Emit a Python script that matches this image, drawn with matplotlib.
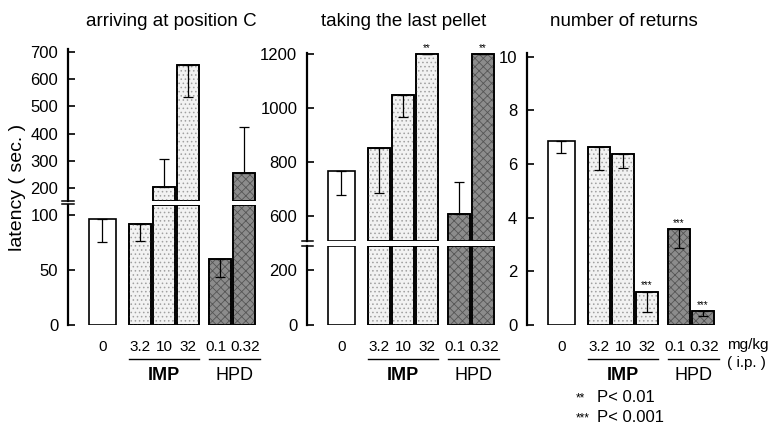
import numpy as np
import matplotlib
matplotlib.use('Agg')
import matplotlib.pyplot as plt
from matplotlib.transforms import blended_transform_factory as btf, ScaledTranslation
from matplotlib.lines import Line2D

plt.rcParams['font.family'] = ['Liberation Sans', 'DejaVu Sans']
plt.rcParams['hatch.linewidth'] = 0.6

# ---------------- data ----------------
doses = ['0', '3.2', '10', '32', '0.1', '0.32']
drug = ['ctrl', 'IMP', 'IMP', 'IMP', 'HPD', 'HPD']

arrive = [96, 92, 205, 653, 60, 256]
arrive_lo = [21, 16, 0, 120, 16, 0]
arrive_hi = [0, 0, 101, 0, 0, 168]

pellet = [767, 852, 1048, 1200, 606, 1200]
pellet_lo = [92, 169, 81, 0, 0, 0]
pellet_hi = [0, 0, 0, 0, 120, 0]
pellet_sig = ['', '', '', '**', '', '**']

returns = [6.87, 6.62, 6.37, 1.24, 3.58, 0.52]
returns_lo = [0.47, 0.83, 0.50, 0.74, 0.72, 0.17]
returns_hi = [0, 0, 0, 0, 0, 0]
returns_sig = ['', '', '', '***', '***', '***']

titles = ['arriving at position C', 'taking the last pellet', 'number of returns']
ylabel = 'latency ( sec. )'
legend_items = [('**', 'P< 0.01'), ('***', 'P< 0.001')]

# ---------------- layout ----------------
W, H = 770, 428
fig = plt.figure(figsize=(W / 100, H / 100), dpi=100)

pos = np.array([0, 1.57, 2.57, 3.57, 4.9, 5.9])
widths = np.array([1.1, 0.95, 0.95, 0.95, 0.95, 0.95])
label_shift = [0, 0, 0, 0, -3.5, 1.5]  # px nudges of tick labels
XL = (-1.43, -1.43 + 195 / 24)

face = {'ctrl': 'white', 'IMP': '#f2f2f2', 'HPD': '#8c8c8c'}
hatchc = {'ctrl': None, 'IMP': '#a0a0a0', 'HPD': '#555555'}
hatchp = {'ctrl': None, 'IMP': '....', 'HPD': 'xxxx'}


def add_ax(x0, ytop, x1, ybot):
    ax = fig.add_axes([x0 / W, (H - ybot) / H, (x1 - x0) / W, (ybot - ytop) / H])
    for s in ['top', 'right', 'bottom']:
        ax.spines[s].set_visible(False)
    ax.spines['left'].set_linewidth(1.6)
    ax.set_xlim(*XL)
    ax.patch.set_alpha(0)
    ax.tick_params(axis='y', direction='in', length=5, width=1.2, pad=7, labelsize=12)
    ax.tick_params(axis='x', length=0)
    ax.set_xticks([])
    return ax


def draw_bars(ax, vals, lo, hi, ylim):
    vals = np.asarray(vals, float)
    y0, y1 = ylim
    top = np.minimum(vals, y1)
    bot = np.full_like(vals, y0)
    show = vals > y0
    h = top - bot
    for i in range(len(vals)):
        if not show[i]:
            continue
        d = drug[i]
        ax.bar(pos[i], h[i], bottom=bot[i], width=widths[i], color=face[d],
               edgecolor='black', linewidth=1.2, zorder=2)
        if hatchp[d]:
            ax.bar(pos[i], h[i], bottom=bot[i], width=widths[i], fill=False,
                   hatch=hatchp[d], edgecolor=hatchc[d], linewidth=0, zorder=2.5)
            ax.bar(pos[i], h[i], bottom=bot[i], width=widths[i], fill=False,
                   edgecolor='black', linewidth=1.2, zorder=2.6)
    ax.errorbar(pos, vals, yerr=[lo, hi], fmt='none', ecolor='black',
                elinewidth=0.9, capsize=3.5, capthick=0.9, zorder=3)
    ax.set_ylim(y0, y1)


def stars(ax, vals, sig):
    for p, v, s in zip(pos, vals, sig):
        if s:
            ax.annotate(s, (p, v), xytext=(0, 1), textcoords='offset points',
                        ha='center', va='bottom', fontsize=7)


def xlabels(ax):
    ax.set_xticks(pos)
    ax.set_xticklabels(doses, fontsize=11)
    ax.tick_params(axis='x', length=0, pad=11)
    for lab, dx in zip(ax.get_xticklabels(), label_shift):
        lab.set_transform(lab.get_transform() + ScaledTranslation(dx / 100, 0, fig.dpi_scale_trans))
    tr = btf(ax.transData, fig.transFigure)
    yl = (H - 359) / H
    for name, idx, wt in [('IMP', [1, 3], 'bold'), ('HPD', [4, 5], 'normal')]:
        a = pos[idx[0]] - widths[idx[0]] / 2
        b = pos[idx[1]] + widths[idx[1]] / 2 + (0.2 if name == 'HPD' else 0)
        fig.add_artist(Line2D([a, b], [yl, yl], transform=tr, color='black', lw=1.0))
        ax.text((a + b) / 2, (H - 376) / H, name, transform=tr, ha='center',
                va='center', fontsize=13, fontweight=wt)


def hline_fig(x0, x1, y):
    fig.add_artist(Line2D([x0 / W, x1 / W], [(H - y) / H, (H - y) / H],
                          color='black', lw=1.1))


# ---- panel 1 ----
a1u = add_ax(68, 49, 263, 201)
draw_bars(a1u, arrive, arrive_lo, arrive_hi, (152, 711))
a1u.set_yticks([200, 300, 400, 500, 600, 700])
a1l = add_ax(68, 205, 263, 325)
draw_bars(a1l, arrive, arrive_lo, arrive_hi, (0, 109))
a1l.set_yticks([0, 50, 100])
xlabels(a1l)
hline_fig(62, 74, 200.5)
hline_fig(62, 74, 204)

# ---- panel 2 ----
a2u = add_ax(307, 53, 502, 241)
draw_bars(a2u, pellet, pellet_lo, pellet_hi, (506, 1204))
a2u.set_yticks([600, 800, 1000, 1200])
stars(a2u, pellet, pellet_sig)
a2l = add_ax(307, 246, 502, 325)
draw_bars(a2l, pellet, pellet_lo, pellet_hi, (0, 289))
a2l.set_yticks([0, 200])
xlabels(a2l)
hline_fig(302, 313, 241)
hline_fig(302, 313, 245.5)

# ---- panel 3 ----
a3 = add_ax(527, 53, 722, 325)
draw_bars(a3, returns, returns_lo, returns_hi, (0, 10.14))
a3.set_yticks([0, 2, 4, 6, 8, 10])
stars(a3, returns, returns_sig)
xlabels(a3)

# ---- texts ----
for x, t in zip([171.5, 404, 624], titles):
    fig.text(x / W, (H - 22) / H, t, ha='center', va='center', fontsize=13.5)
fig.text(18 / W, (H - 187) / H, ylabel, rotation=90, ha='center', va='center', fontsize=14)
fig.text(727 / W, (H - 345) / H, 'mg/kg', ha='left', va='center', fontsize=11)
fig.text(727 / W, (H - 363) / H, '( i.p. )', ha='left', va='center', fontsize=11)
for (s, t), y in zip(legend_items, [398, 418]):
    fig.text(576 / W, (H - y) / H, s, ha='left', va='center', fontsize=8.5)
    fig.text(597 / W, (H - y) / H, t, ha='left', va='center', fontsize=12)

fig.savefig('out.png', dpi=100)
